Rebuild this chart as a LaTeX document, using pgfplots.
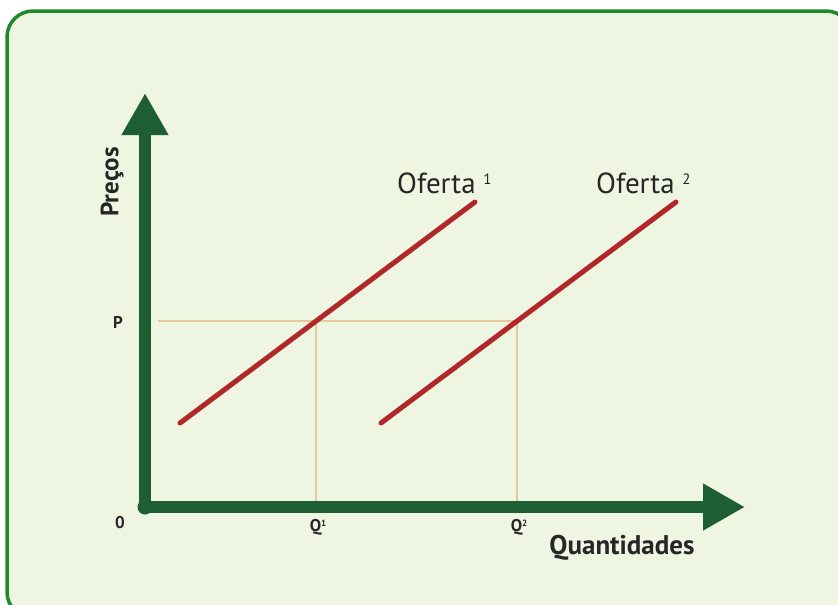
\documentclass[border=0pt]{standalone}
\usepackage{pgfplots}
\pgfplotsset{compat=1.18}
\usepackage{fontspec}
\setmainfont{PT Sans}
\usetikzlibrary{arrows.meta}
\definecolor{bgfill}{HTML}{EEF5E1}
\definecolor{frame}{HTML}{1E8A2E}
\definecolor{axgreen}{HTML}{1D5E32}
\definecolor{supred}{HTML}{B2282A}
\definecolor{guide}{HTML}{E6C89E}
\definecolor{txt}{HTML}{262626}
\begin{document}
\begin{tikzpicture}[x=1pt,y=1pt]
\useasboundingbox (0,0) rectangle (838,-605);
\fill[white] (0,0) rectangle (838,-605);
\draw[frame, line width=3.5pt, fill=bgfill, rounded corners=26pt] (7,-11) rectangle (852,-618);
\begin{axis}[
  at={(145pt,-507pt)}, anchor=south west,
  scale only axis, width=600pt, height=412pt,
  xmin=0, xmax=600, ymin=0, ymax=412,
  axis lines=none, clip=false,
]
% guide lines
\addplot[guide, line width=1.3pt, no marks] coordinates {(13,186) (372,186)};
\addplot[guide, line width=1.3pt, no marks] coordinates {(171,186) (171,4)};
\addplot[guide, line width=1.3pt, no marks] coordinates {(372,186) (372,4)};
% supply curves
\addplot[supred, line width=5pt, line cap=round, no marks] coordinates {(35,84) (330,305)};
\addplot[supred, line width=5pt, line cap=round, no marks] coordinates {(236,84) (531,305)};
% axes
\draw[axgreen, line width=12pt, line join=round,
  {Triangle[width=44pt,length=42pt]}-{Triangle[width=44pt,length=42pt]}]
  (axis cs:0,414) -- (axis cs:0,0) -- (axis cs:600,0);
\fill[axgreen] (axis cs:0,0) circle (7.5pt);
% labels
\node[txt, anchor=base west, inner sep=0pt, font=\fontsize{29}{32}\selectfont] at (axis cs:252,314) {Oferta \raisebox{8.5pt}{\fontsize{15}{16}\selectfont 1}};
\node[txt, anchor=base west, inner sep=0pt, font=\fontsize{29}{32}\selectfont] at (axis cs:451,314) {Oferta \raisebox{8.5pt}{\fontsize{15}{16}\selectfont 2}};
\node[txt, font=\fontsize{17}{19}\selectfont\bfseries] at (axis cs:-27,185) {P};
\node[txt, font=\fontsize{17}{19}\selectfont\bfseries] at (axis cs:-25,-16) {0};
\node[txt, font=\fontsize{17}{19}\selectfont\bfseries] at (axis cs:173,-20) {Q\raisebox{5pt}{\fontsize{9}{10}\selectfont 1}};
\node[txt, font=\fontsize{17}{19}\selectfont\bfseries] at (axis cs:374,-20) {Q\raisebox{5pt}{\fontsize{9}{10}\selectfont 2}};
\node[txt, font=\fontsize{27}{30}\selectfont\bfseries] at (axis cs:477,-41) {Quantidades};
\node[txt, rotate=90, font=\fontsize{25}{28}\selectfont\bfseries] at (axis cs:-33,325) {Preços};
\end{axis}
\end{tikzpicture}
\end{document}
